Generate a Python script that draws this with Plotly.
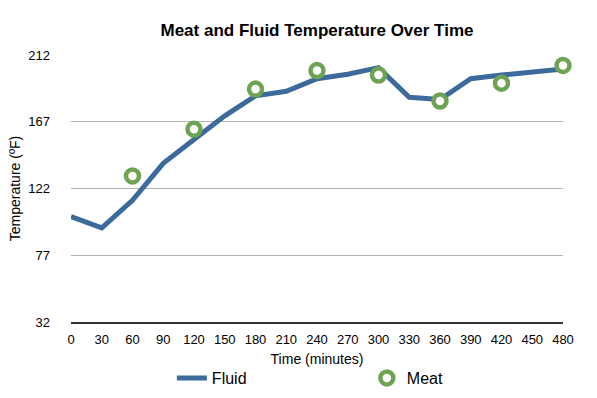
import plotly.graph_objects as go

time_fluid = [0, 30, 60, 90, 120, 150, 180, 210, 240, 270, 300, 330, 360, 390, 420, 450, 480]
fluid_temp = [103, 95.5, 114, 139, 155, 171, 184.5, 187.5, 196, 199, 203.5, 183.5, 182, 196, 198.5, 200.5, 202.5]

time_meat = [60, 120, 180, 240, 300, 360, 420, 480]
meat_temp = [130.5, 162, 189, 201.5, 198.5, 181, 193, 205]

x_ticks = list(range(0, 481, 30))
y_ticks = [32, 77, 122, 167, 212]

FONT = "Liberation Sans, Arial, Helvetica, sans-serif"

fig = go.Figure()
fig.add_trace(go.Scatter(
    x=time_fluid, y=fluid_temp, mode="lines", name="Fluid",
    line=dict(color="#3c6a9c", width=5),
))
fig.add_trace(go.Scatter(
    x=time_meat, y=meat_temp, mode="markers", name="Meat",
    marker=dict(symbol="circle", size=13, color="white",
                line=dict(color="#6da352", width=4.5)),
    cliponaxis=False,
))

fig.update_layout(
    width=597, height=398,
    margin=dict(l=71, r=34, t=55, b=76, autoexpand=False),
    paper_bgcolor="white", plot_bgcolor="white",
    font=dict(family=FONT, color="black", size=13),
    title=dict(text="<b>Meat and Fluid Temperature Over Time</b>",
               x=(71 + 492 / 2) / 597, xanchor="center", y=1 - 30 / 398, yanchor="middle",
               font=dict(size=17, family=FONT, color="black")),
    showlegend=True,
    legend=dict(orientation="h", x=0.205, xanchor="left", y=-(378 - 322) / 267, yanchor="middle",
                font=dict(size=16, family=FONT), entrywidth=150, entrywidthmode="pixels",
                bgcolor="rgba(0,0,0,0)"),
    xaxis=dict(range=[0, 480], tickvals=x_ticks, ticktext=[str(v) for v in x_ticks],
               showgrid=False, zeroline=False, showline=True, linecolor="#333333", linewidth=1.5,
               ticks="", tickfont=dict(size=13), ticklabelstandoff=5, automargin=False,
               title=dict(text="Time (minutes)", font=dict(size=14), standoff=8)),
    yaxis=dict(range=[32, 212], tickvals=y_ticks, ticktext=[str(v) for v in y_ticks],
               showgrid=True, gridcolor="#b3b3b3", gridwidth=1, zeroline=False, showline=False,
               ticks="", tickfont=dict(size=13), ticklabelstandoff=20, automargin=False,
               title=dict(text="Temperature (ºF)", font=dict(size=14), standoff=4)),
)

fig.write_html("out.html", config={"displayModeBar": False},
               post_script="document.body.style.margin='0px';")
